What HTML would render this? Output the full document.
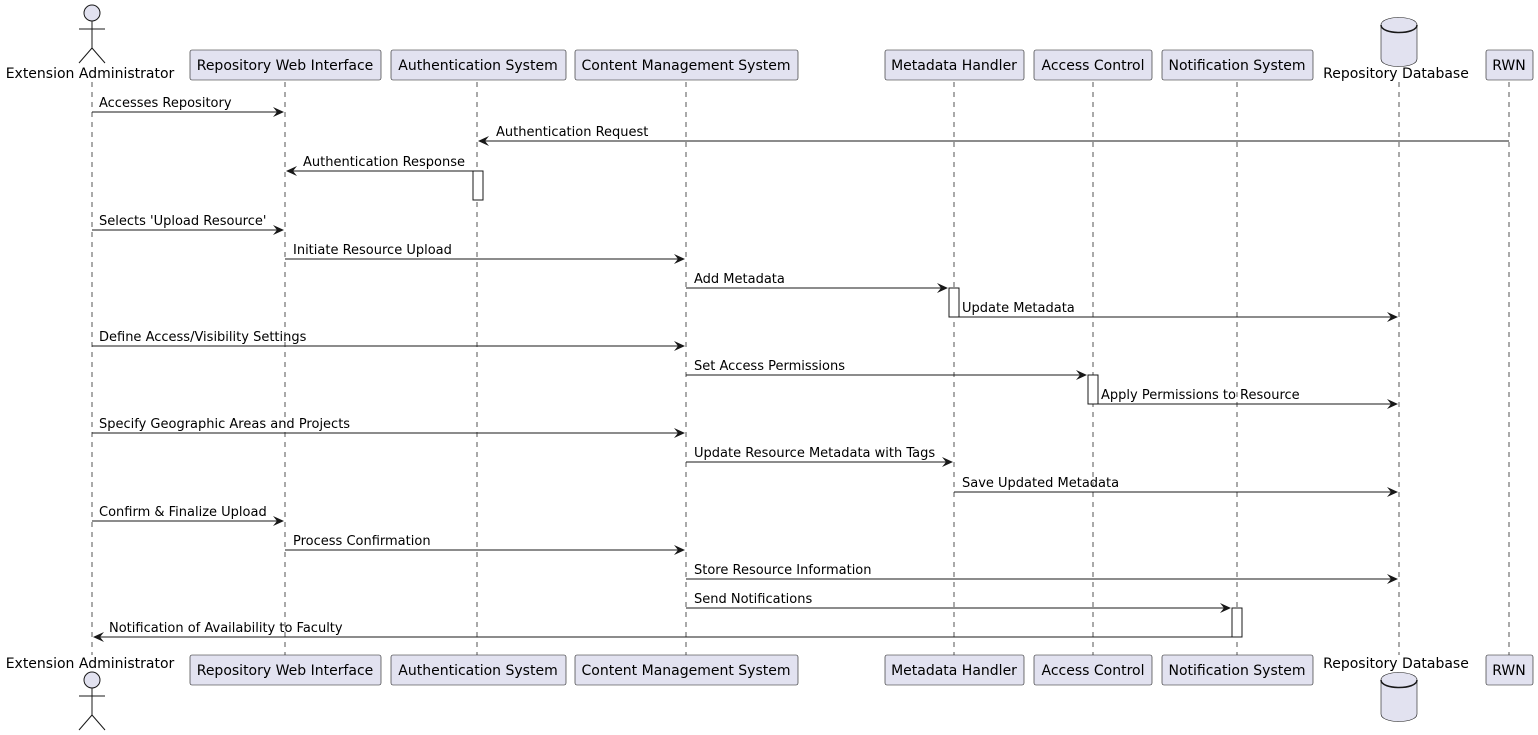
<!DOCTYPE html>
<html><head><meta charset="utf-8"><style>
html,body{margin:0;padding:0;background:#fff;}
svg{display:block;}
text{font-family:"DejaVu Sans","Liberation Sans",sans-serif;font-size:13px;fill:#000;}
text.p{font-size:14px;}
.ll{stroke:#555;stroke-width:1;stroke-dasharray:5,5;}
.bx{fill:#E2E2F0;stroke:#181818;stroke-width:0.6;}
.m{stroke:#181818;stroke-width:1;}
.ah{fill:#181818;}
.act{fill:#fff;stroke:#181818;stroke-width:1;}
</style></head><body>
<svg width="1538" height="735" viewBox="0 0 1538 735" xmlns="http://www.w3.org/2000/svg">
<line class="ll" x1="92" y1="82" x2="92" y2="655"/>
<line class="ll" x1="285" y1="82" x2="285" y2="655"/>
<line class="ll" x1="477" y1="82" x2="477" y2="655"/>
<line class="ll" x1="686" y1="82" x2="686" y2="655"/>
<line class="ll" x1="954" y1="82" x2="954" y2="655"/>
<line class="ll" x1="1093" y1="82" x2="1093" y2="655"/>
<line class="ll" x1="1237" y1="82" x2="1237" y2="655"/>
<line class="ll" x1="1399" y1="82" x2="1399" y2="655"/>
<line class="ll" x1="1509" y1="82" x2="1509" y2="655"/>

<g stroke="#181818" fill="none" stroke-width="1">
<circle cx="92" cy="13" r="8" fill="#E2E2F0"/>
<line x1="92" y1="21" x2="92" y2="48"/><line x1="79" y1="29" x2="105" y2="29"/>
<line x1="92" y1="48" x2="79" y2="63"/><line x1="92" y1="48" x2="105" y2="63"/>
</g>
<text class="p" x="90" y="78" text-anchor="middle">Extension Administrator</text>
<g stroke="#181818" fill="none" stroke-width="1">
<circle cx="92" cy="680" r="8" fill="#E2E2F0"/>
<line x1="92" y1="688" x2="92" y2="715"/><line x1="79" y1="696" x2="105" y2="696"/>
<line x1="92" y1="715" x2="79" y2="730"/><line x1="92" y1="715" x2="105" y2="730"/>
</g>
<text class="p" x="90" y="668" text-anchor="middle">Extension Administrator</text>

<rect class="bx" x="190" y="50" width="191" height="30" rx="2"/><text class="p" x="285" y="70" text-anchor="middle">Repository Web Interface</text>
<rect class="bx" x="391" y="50" width="175" height="30" rx="2"/><text class="p" x="478" y="70" text-anchor="middle">Authentication System</text>
<rect class="bx" x="575" y="50" width="223" height="30" rx="2"/><text class="p" x="686" y="70" text-anchor="middle">Content Management System</text>
<rect class="bx" x="885" y="50" width="139" height="30" rx="2"/><text class="p" x="954" y="70" text-anchor="middle">Metadata Handler</text>
<rect class="bx" x="1034" y="50" width="118" height="30" rx="2"/><text class="p" x="1093" y="70" text-anchor="middle">Access Control</text>
<rect class="bx" x="1162" y="50" width="151" height="30" rx="2"/><text class="p" x="1237" y="70" text-anchor="middle">Notification System</text>
<rect class="bx" x="1486" y="50" width="47" height="30" rx="2"/><text class="p" x="1509" y="70" text-anchor="middle">RWN</text>
<path class="bx" stroke-width="1.5" d="M1381,25 C1381,15 1417,15 1417,25 L1417,59 C1417,69 1381,69 1381,59 Z"/>
<path fill="none" stroke="#181818" stroke-width="1.5" d="M1381,25 C1381,35 1417,35 1417,25"/>
<text class="p" x="1396" y="78" text-anchor="middle">Repository Database</text>

<rect class="bx" x="190" y="655" width="191" height="30" rx="2"/><text class="p" x="285" y="675" text-anchor="middle">Repository Web Interface</text>
<rect class="bx" x="391" y="655" width="175" height="30" rx="2"/><text class="p" x="478" y="675" text-anchor="middle">Authentication System</text>
<rect class="bx" x="575" y="655" width="223" height="30" rx="2"/><text class="p" x="686" y="675" text-anchor="middle">Content Management System</text>
<rect class="bx" x="885" y="655" width="139" height="30" rx="2"/><text class="p" x="954" y="675" text-anchor="middle">Metadata Handler</text>
<rect class="bx" x="1034" y="655" width="118" height="30" rx="2"/><text class="p" x="1093" y="675" text-anchor="middle">Access Control</text>
<rect class="bx" x="1162" y="655" width="151" height="30" rx="2"/><text class="p" x="1237" y="675" text-anchor="middle">Notification System</text>
<rect class="bx" x="1486" y="655" width="47" height="30" rx="2"/><text class="p" x="1509" y="675" text-anchor="middle">RWN</text>
<text class="p" x="1396" y="668" text-anchor="middle">Repository Database</text>
<path class="bx" stroke-width="1.5" d="M1381,680 C1381,670 1417,670 1417,680 L1417,714 C1417,724 1381,724 1381,714 Z"/>
<path fill="none" stroke="#181818" stroke-width="1.5" d="M1381,680 C1381,690 1417,690 1417,680"/>

<rect class="act" x="473" y="171" width="10" height="29"/>
<rect class="act" x="949" y="288" width="10" height="29"/>
<rect class="act" x="1088" y="375" width="10" height="29"/>
<rect class="act" x="1232" y="608" width="10" height="29"/>

<line class="m" x1="92" y1="112" x2="283" y2="112"/><polygon class="ah" points="273,107 284,112 273,117 277,112"/><text x="99" y="107">Accesses Repository</text>
<line class="m" x1="1509" y1="141" x2="479" y2="141"/><polygon class="ah" points="489,136 478,141 489,146 485,141"/><text x="496" y="136">Authentication Request</text>
<line class="m" x1="473" y1="171" x2="287" y2="171"/><polygon class="ah" points="297,166 286,171 297,176 293,171"/><text x="303" y="166">Authentication Response</text>
<line class="m" x1="92" y1="230" x2="283" y2="230"/><polygon class="ah" points="273,225 284,230 273,235 277,230"/><text x="99" y="225">Selects 'Upload Resource'</text>
<line class="m" x1="285" y1="259" x2="684" y2="259"/><polygon class="ah" points="674,254 685,259 674,264 678,259"/><text x="293" y="254">Initiate Resource Upload</text>
<line class="m" x1="686" y1="288" x2="947" y2="288"/><polygon class="ah" points="937,283 948,288 937,293 941,288"/><text x="694" y="283">Add Metadata</text>
<line class="m" x1="959" y1="317" x2="1397" y2="317"/><polygon class="ah" points="1387,312 1398,317 1387,322 1391,317"/><text x="962" y="312">Update Metadata</text>
<line class="m" x1="92" y1="346" x2="684" y2="346"/><polygon class="ah" points="674,341 685,346 674,351 678,346"/><text x="99" y="341">Define Access/Visibility Settings</text>
<line class="m" x1="686" y1="375" x2="1086" y2="375"/><polygon class="ah" points="1076,370 1087,375 1076,380 1080,375"/><text x="694" y="370">Set Access Permissions</text>
<line class="m" x1="1098" y1="404" x2="1397" y2="404"/><polygon class="ah" points="1387,399 1398,404 1387,409 1391,404"/><text x="1101" y="399">Apply Permissions to Resource</text>
<line class="m" x1="92" y1="433" x2="684" y2="433"/><polygon class="ah" points="674,428 685,433 674,438 678,433"/><text x="99" y="428">Specify Geographic Areas and Projects</text>
<line class="m" x1="686" y1="462" x2="952" y2="462"/><polygon class="ah" points="942,457 953,462 942,467 946,462"/><text x="694" y="457">Update Resource Metadata with Tags</text>
<line class="m" x1="954" y1="492" x2="1397" y2="492"/><polygon class="ah" points="1387,487 1398,492 1387,497 1391,492"/><text x="962" y="487">Save Updated Metadata</text>
<line class="m" x1="92" y1="521" x2="283" y2="521"/><polygon class="ah" points="273,516 284,521 273,526 277,521"/><text x="99" y="516">Confirm &amp; Finalize Upload</text>
<line class="m" x1="285" y1="550" x2="684" y2="550"/><polygon class="ah" points="674,545 685,550 674,555 678,550"/><text x="293" y="545">Process Confirmation</text>
<line class="m" x1="686" y1="579" x2="1397" y2="579"/><polygon class="ah" points="1387,574 1398,579 1387,584 1391,579"/><text x="694" y="574">Store Resource Information</text>
<line class="m" x1="686" y1="608" x2="1230" y2="608"/><polygon class="ah" points="1220,603 1231,608 1220,613 1224,608"/><text x="694" y="603">Send Notifications</text>
<line class="m" x1="1232" y1="637" x2="94" y2="637"/><polygon class="ah" points="104,632 93,637 104,642 100,637"/><text x="109" y="632">Notification of Availability to Faculty</text>
</svg>
</body></html>
